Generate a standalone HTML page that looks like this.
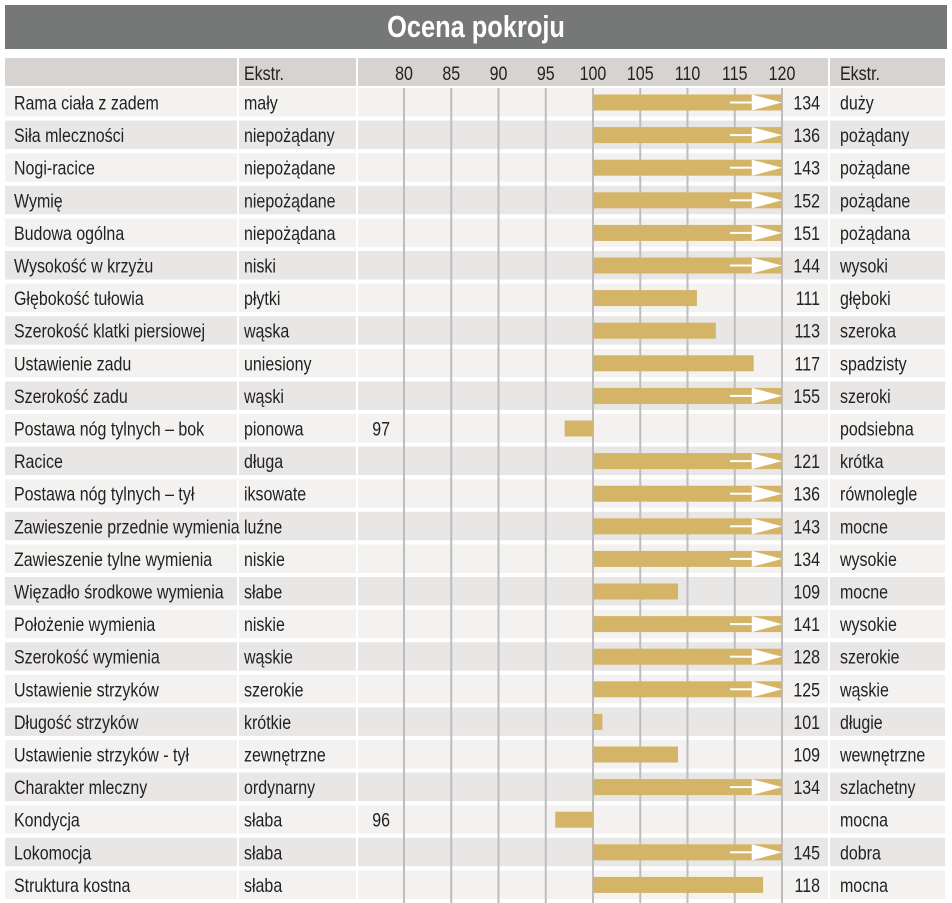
<!DOCTYPE html>
<html><head><meta charset="utf-8"><style>
body{margin:0;background:#fff;}
svg{display:block;font-family:"Liberation Sans Narrow","Liberation Sans",sans-serif;}
</style></head><body>
<svg id="c" width="952" height="903" xmlns="http://www.w3.org/2000/svg">
<rect x="5" y="5" width="942" height="44" fill="#767777"/>
<text x="580.5" y="37" transform="scale(0.82 1)" text-anchor="middle" font-size="31" font-weight="bold" fill="#fff">Ocena pokroju</text>
<g id="hdr">
<rect x="5" y="58" width="232" height="28" fill="#d6d3d1"/>
<rect x="239" y="58" width="117" height="28" fill="#d6d3d1"/>
<rect x="358" y="58" width="470" height="28" fill="#d6d3d1"/>
<rect x="830" y="58" width="115" height="28" fill="#d6d3d1"/>
</g>
<g id="rows"></g><g id="grid"></g><g id="bars"></g>
</svg>
<script>
const traits=["Rama ciała z zadem","Siła mleczności","Nogi-racice","Wymię","Budowa ogólna","Wysokość w krzyżu","Głębokość tułowia","Szerokość klatki piersiowej","Ustawienie zadu","Szerokość zadu","Postawa nóg tylnych –  bok","Racice","Postawa nóg tylnych –  tył","Zawieszenie przednie wymienia","Zawieszenie tylne wymienia","Więzadło środkowe wymienia","Położenie wymienia","Szerokość wymienia","Ustawienie strzyków","Długość strzyków","Ustawienie strzyków - tył","Charakter mleczny","Kondycja","Lokomocja","Struktura kostna"];
const lowExt=["mały","niepożądany","niepożądane","niepożądane","niepożądana","niski","płytki","wąska","uniesiony","wąski","pionowa","długa","iksowate","luźne","niskie","słabe","niskie","wąskie","szerokie","krótkie","zewnętrzne","ordynarny","słaba","słaba","słaba"];
const highExt=["duży","pożądany","pożądane","pożądane","pożądana","wysoki","głęboki","szeroka","spadzisty","szeroki","podsiebna","krótka","równolegle","mocne","wysokie","mocne","wysokie","szerokie","wąskie","długie","wewnętrzne","szlachetny","mocna","dobra","mocna"];
const values=[134,136,143,152,151,144,111,113,117,155,97,121,136,143,134,109,141,128,125,101,109,134,96,145,118];
const ticks=[80,85,90,95,100,105,110,115,120];
const NS="http://www.w3.org/2000/svg";
const x=v=>593+(v-100)*9.45;
const y0=88,pitch=32.6,SX=0.82;
function el(p,t,a,txt){const e=document.createElementNS(NS,t);for(const k in a)e.setAttribute(k,a[k]);if(txt!==undefined)e.textContent=txt;p.appendChild(e);return e;}
function tx(p,px,py,s,anchor){return el(p,'text',{x:px/SX,y:py,transform:`scale(${SX} 1)`,'font-size':19.5,fill:'#222','text-anchor':anchor||'start'},s);}
const R=document.getElementById('rows'),G=document.getElementById('grid'),B=document.getElementById('bars'),H=document.getElementById('hdr');
const e1=tx(H,244,80,'Ekstr.');


const e2=tx(H,840,80,'Ekstr.');


ticks.forEach(t=>{
 const tl=tx(H,x(t),80,t,'middle');
 
 
});
traits.forEach((n,i)=>{
 const ty=y0+i*pitch, fill=i%2?'#e9e6e6':'#f3f2f1', cy=ty+14.5;
 [[5,232],[239,117],[358,470],[830,115]].forEach(c=>el(R,'rect',{x:c[0],y:ty,width:c[1],height:28.5,fill}));
 const a=tx(R,14,cy+7,n);
 
 
 const b=tx(R,244,cy+7,lowExt[i]);
 
 
 const c=tx(R,840,cy+7,highExt[i]);
 
 
 const v=values[i];
 const x1=x(100),x2=x(Math.min(v,120)),xs=x(Math.max(v,75));
 const bar=el(B,'rect',{x:Math.min(x1,x2,xs),y:cy-8,width:Math.abs((v>=100?x2:xs)-x1),height:16,fill:'#d4b466'});
 
 
 if(v>120){
  el(B,'rect',{x:x(114.5),y:cy-1,width:x(116.8)-x(114.5),height:2,fill:'#fff'});
  el(B,'polygon',{points:`${x(116.8)},${cy-8} ${x(120)},${cy} ${x(116.8)},${cy+8}`,fill:'#fff'});
 }
 const lab=v>=100?tx(B,820,cy+7,v,'end'):tx(B,390,cy+7,v,'end');
 
 
});
ticks.forEach(t=>{
 const l=el(G,'line',{x1:x(t),x2:x(t),y1:88,y2:903,stroke:'#bdbdbd','stroke-width':2});
 
 
});
</script>
</body></html>
